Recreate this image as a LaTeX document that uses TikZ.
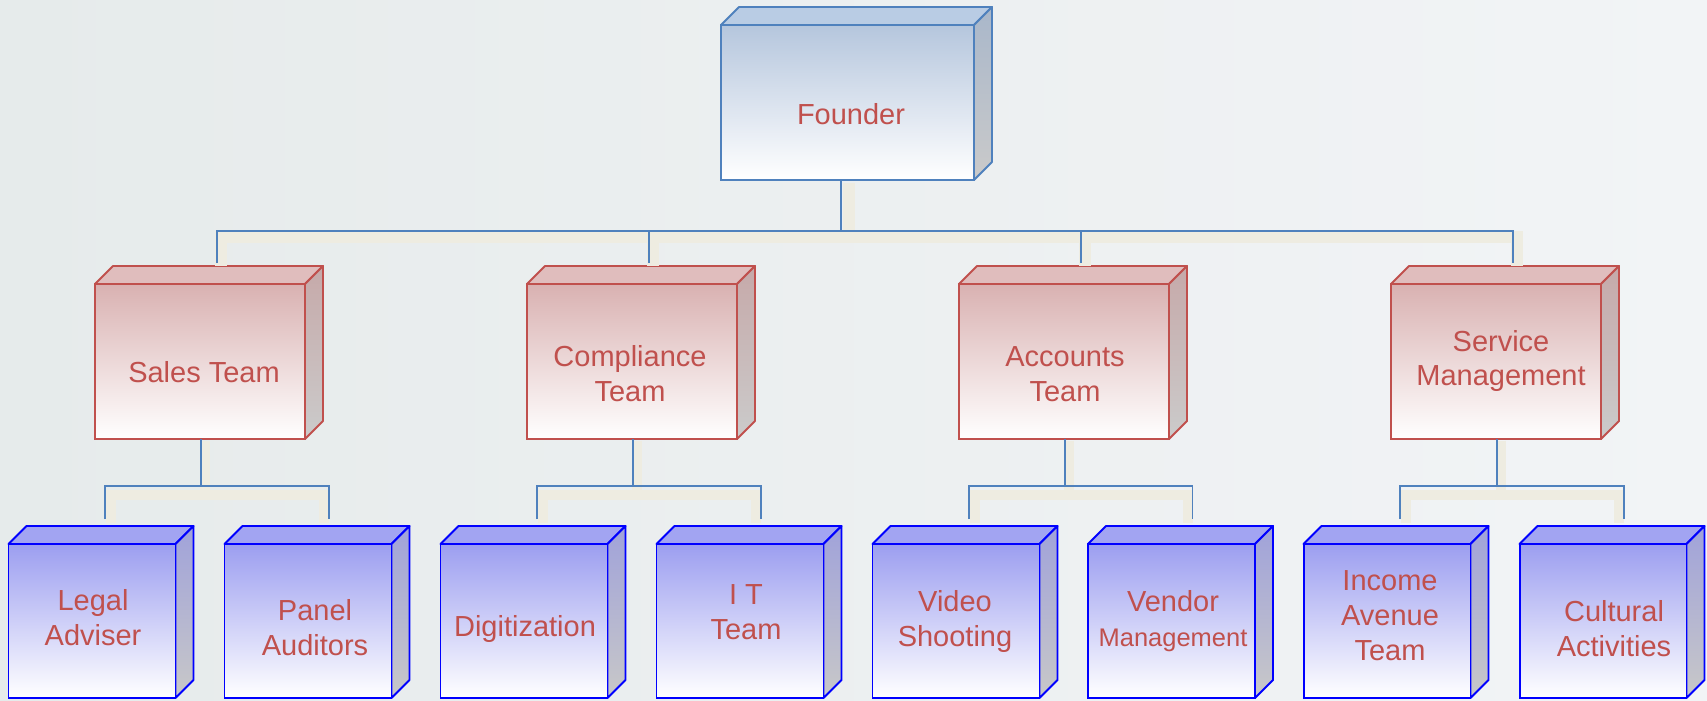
\documentclass[tikz,border=0pt]{standalone}
\usepackage{fontspec}
\setmainfont{Liberation Sans}
\usetikzlibrary{calc}

\definecolor{linefo}{HTML}{4F81BD}
\definecolor{frontfo}{HTML}{B5C6DD}
\definecolor{topfo}{HTML}{B9CCE4}
\definecolor{sidefo}{HTML}{A9B7CA}
\definecolor{basefo}{HTML}{CACACA}
\definecolor{linemd}{HTML}{C0504D}
\definecolor{frontmd}{HTML}{D9B1B1}
\definecolor{topmd}{HTML}{E0BDBD}
\definecolor{sidemd}{HTML}{C6A9A9}
\definecolor{basemd}{HTML}{CBCBCB}
\definecolor{linebt}{HTML}{0000FF}
\definecolor{frontbt}{HTML}{9C9EF0}
\definecolor{topbt}{HTML}{A2A4F2}
\definecolor{sidebt}{HTML}{A0A2DA}
\definecolor{basebt}{HTML}{C8C8C8}
\definecolor{txtred}{HTML}{C0504D}
\definecolor{linkblue}{HTML}{4F81BD}
\definecolor{shadowbeige}{HTML}{EEECE1}
\definecolor{bgleft}{HTML}{E6EBEB}
\definecolor{bgright}{HTML}{F2F4F6}

\tikzset{
  face/.style={line width=1.1pt, line join=round},
  cube/.style={draw=line#1, top color=front#1, bottom color=white,
    line width=1.1pt, outer sep=0pt, inner sep=0pt,
    append after command={\pgfextra{\let\cubenode\tikzlastnode
      \filldraw[face, draw=line#1, fill=top#1] (\cubenode.north west) -- ++(18,-18)
        -- ($(\cubenode.north east)+(18,-18)$) -- (\cubenode.north east) -- cycle;
      \shadedraw[face, draw=line#1, top color=side#1, bottom color=base#1] (\cubenode.north east)
        -- ++(18,-18) -- ($(\cubenode.south east)+(18,-18)$) -- (\cubenode.south east) -- cycle;}}},
  founderbox/.style={cube=fo, minimum width=5.06cm, minimum height=3.1cm},
  teambox/.style={cube=md, minimum width=4.2cm, minimum height=3.1cm},
  unitbox/.style={cube=bt, minimum width=3.34cm, minimum height=3.08cm},
  txt/.style={text=txtred, align=center, inner sep=0pt, font=\fontsize{16.5}{19.9}\selectfont},
  link/.style={draw=linkblue, line width=0.85pt},
  shadow/.style={draw=shadowbeige, line width=6.8pt},
  smallshadow/.style={draw=shadowbeige, line width=5.7pt}
}

\begin{document}
\begin{tikzpicture}[x=0.02cm, y=-0.02cm]

\useasboundingbox (0,0) rectangle (1707,700);

% Background
\shade [left color=bgleft, right color=bgright] (0,0) rectangle (1707,700);

% Founder
\node [founderbox] (founder) at (847.5,102.5) {};

% Teams
\node [teambox] (sales) at (200,361.5) {};
\node [teambox] (comp) at (632,361.5) {};
\node [teambox] (acct) at (1064,361.5) {};
\node [teambox] (serv) at (1496,361.5) {};

% Units
\node [unitbox] (legal) at (92,621) {};
\node [unitbox] (panel) at (308,621) {};
\node [unitbox] (digit) at (524,621) {};
\node [unitbox] (itteam) at (740,621) {};
\node [unitbox] (video) at (956,621) {};
\node [unitbox] (vendor) at (1171.5,621) {};
\node [unitbox] (income) at (1387,621) {};
\node [unitbox] (culture) at (1603,621) {};

% Founder to teams
\draw [shadow] ($(sales.north)+(21,-18)$) |- ($(founder.south)+(1.5,57)$) -| ($(serv.north)+(21,-18)$)
  ($(founder.south)+(1.5,3)$) -- ($(founder.south)+(1.5,57)$)
  ($(comp.north)+(21,-18)$) -- ++(0,-29)
  ($(acct.north)+(21,-18)$) -- ++(0,-29);
\draw [link] ($(sales.north)+(17,-21)$) |- ($(founder.south)+(-6.5,51)$) -| ($(serv.north)+(17,-21)$)
  ($(founder.south)+(-6.5,0)$) -- ($(founder.south)+(-6.5,51)$)
  ($(comp.north)+(17,-21)$) -- ++(0,-32)
  ($(acct.north)+(17,-21)$) -- ++(0,-32);

% Teams to units
\draw [smallshadow] ($(legal.north)+(19,-21)$) |- ($(sales.south)+(5,56)$) -| ($(panel.north)+(16,-21)$)
  ($(sales.south)+(5,2)$) -- ($(sales.south)+(5,56)$);
\draw [link] ($(legal.north)+(13,-25)$) |- ($(sales.south)+(1,47)$) -| ($(panel.north)+(21,-25)$)
  ($(sales.south)+(1,0)$) -- ($(sales.south)+(1,47)$);

\draw [smallshadow] ($(digit.north)+(19,-21)$) |- ($(comp.south)+(5,56)$) -| ($(itteam.north)+(16,-21)$)
  ($(comp.south)+(5,2)$) -- ($(comp.south)+(5,56)$);
\draw [link] ($(digit.north)+(13,-25)$) |- ($(comp.south)+(1,47)$) -| ($(itteam.north)+(21,-25)$)
  ($(comp.south)+(1,0)$) -- ($(comp.south)+(1,47)$);

\draw [smallshadow] ($(video.north)+(19,-21)$) |- ($(acct.south)+(5,56)$) -| ($(vendor.north)+(16,-21)$)
  ($(acct.south)+(5,2)$) -- ($(acct.south)+(5,56)$);
\draw [link] ($(video.north)+(13,-25)$) |- ($(acct.south)+(1,47)$) -| ($(vendor.north)+(21,-25)$)
  ($(acct.south)+(1,0)$) -- ($(acct.south)+(1,47)$);

\draw [smallshadow] ($(income.north)+(19,-21)$) |- ($(serv.south)+(5,56)$) -| ($(culture.north)+(16,-21)$)
  ($(serv.south)+(5,2)$) -- ($(serv.south)+(5,56)$);
\draw [link] ($(income.north)+(13,-25)$) |- ($(serv.south)+(1,47)$) -| ($(culture.north)+(21,-25)$)
  ($(serv.south)+(1,0)$) -- ($(serv.south)+(1,47)$);

% Labels
\node [txt] (tfounder) at ($(founder)+(3.5,12)$) {Founder};
\node [txt] (tsales) at ($(sales)+(4,11)$) {Sales Team};
\node [txt] (tcomp) at ($(comp)+(-2,12)$) {Compliance\\Team};
\node [txt] (tacct) at ($(acct)+(1,12.5)$) {Accounts\\Team};
\node [txt] (tserv) at ($(serv)+(5,-0.5)$) {Service\\Management};
\node [txt] (tlegal) at ($(legal)+(1,-3.5)$) {Legal\\Adviser};
\node [txt] (tpanel) at ($(panel)+(7,7)$) {Panel\\Auditors};
\node [txt] (tdigit) at ($(digit)+(1,8)$) {Digitization};
\node [txt] (titteam) at ($(itteam)+(6,-8.5)$) {I T\\Team};
\node [txt] (tvideo) at ($(video)+(-1,0.5)$) {Video\\Shooting};
\node [txt] (tvendor) at ($(vendor)+(1.5,0)$) {Vendor\\{\fontsize{14.5}{19.9}\selectfont Management}};
\node [txt] (tincome) at ($(income)+(3,-5.5)$) {Income\\Avenue\\Team};
\node [txt] (tculture) at ($(culture)+(11,7.5)$) {Cultural\\Activities};

\end{tikzpicture}
\end{document}
